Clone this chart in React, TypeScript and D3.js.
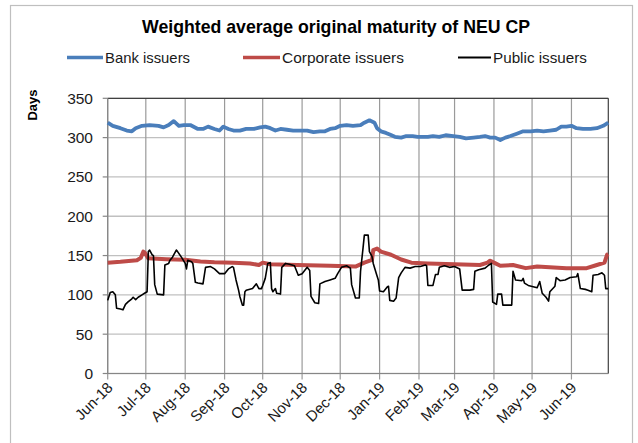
import React from "react";
import * as d3 from "d3";

// DATA
const chartTitle = "Weighted average original maturity of NEU CP";
const yAxisLabel = "Days";
const seriesNames = ["Bank issuers", "Corporate issuers", "Public issuers"];
const yTicks = [0, 50, 100, 150, 200, 250, 300, 350];
const monthTicks = [
  "2018-06-01", "2018-07-01", "2018-08-01", "2018-09-01", "2018-10-01",
  "2018-11-01", "2018-12-01", "2019-01-01", "2019-02-01", "2019-03-01",
  "2019-04-01", "2019-05-01", "2019-06-01",
];

const bankIssuers: [string, number][] = [
  ["2018-06-01", 319], ["2018-06-05", 315], ["2018-06-11", 312], ["2018-06-16", 309],
  ["2018-06-20", 308], ["2018-06-23", 312], ["2018-06-28", 315], ["2018-07-04", 316],
  ["2018-07-11", 315], ["2018-07-15", 313], ["2018-07-19", 316], ["2018-07-23", 321],
  ["2018-07-27", 315], ["2018-07-31", 316], ["2018-08-05", 316], ["2018-08-11", 311],
  ["2018-08-15", 311], ["2018-08-19", 314], ["2018-08-24", 311], ["2018-08-28", 309],
  ["2018-08-31", 314], ["2018-09-04", 311], ["2018-09-08", 309], ["2018-09-13", 309],
  ["2018-09-18", 311], ["2018-09-24", 311], ["2018-09-29", 313], ["2018-10-03", 314],
  ["2018-10-07", 312], ["2018-10-11", 309], ["2018-10-15", 311], ["2018-10-20", 310],
  ["2018-10-25", 309], ["2018-10-30", 309], ["2018-11-05", 309], ["2018-11-10", 307],
  ["2018-11-15", 308], ["2018-11-19", 308], ["2018-11-23", 311], ["2018-11-27", 312],
  ["2018-12-01", 315], ["2018-12-06", 316], ["2018-12-11", 315], ["2018-12-17", 316],
  ["2018-12-20", 319], ["2018-12-24", 322], ["2018-12-28", 319], ["2018-12-30", 312],
  ["2019-01-02", 308], ["2019-01-06", 306], ["2019-01-09", 304], ["2019-01-13", 301],
  ["2019-01-18", 300], ["2019-01-22", 302], ["2019-01-27", 302], ["2019-01-31", 301],
  ["2019-02-04", 301], ["2019-02-08", 301], ["2019-02-12", 302], ["2019-02-17", 301],
  ["2019-02-22", 303], ["2019-02-28", 302], ["2019-03-05", 301], ["2019-03-10", 299],
  ["2019-03-16", 300], ["2019-03-21", 301], ["2019-03-25", 302], ["2019-03-29", 300],
  ["2019-04-02", 300], ["2019-04-06", 297], ["2019-04-10", 300], ["2019-04-14", 302],
  ["2019-04-19", 305], ["2019-04-24", 308], ["2019-04-30", 308], ["2019-05-05", 309],
  ["2019-05-10", 308], ["2019-05-15", 309], ["2019-05-20", 310], ["2019-05-24", 314],
  ["2019-05-28", 314], ["2019-06-01", 315], ["2019-06-05", 312], ["2019-06-10", 311],
  ["2019-06-16", 311], ["2019-06-21", 312], ["2019-06-26", 315], ["2019-06-30", 319],
];

const corporateIssuers: [string, number][] = [
  ["2018-06-01", 141], ["2018-06-11", 142], ["2018-06-24", 144], ["2018-06-27", 147],
  ["2018-06-29", 155], ["2018-06-30", 154], ["2018-07-03", 146.5], ["2018-07-17", 145.4],
  ["2018-08-01", 144.6], ["2018-08-13", 142.5], ["2018-08-24", 141.5], ["2018-09-08", 141],
  ["2018-09-21", 140], ["2018-09-28", 138], ["2018-10-01", 141], ["2018-10-07", 139],
  ["2018-10-28", 138], ["2018-11-23", 137], ["2018-12-13", 136], ["2018-12-20", 141],
  ["2018-12-26", 144.5], ["2018-12-27", 157], ["2018-12-30", 159], ["2019-01-02", 155],
  ["2019-01-10", 151], ["2019-01-18", 145], ["2019-01-26", 141], ["2019-02-08", 140],
  ["2019-03-01", 139], ["2019-03-21", 138], ["2019-03-27", 141], ["2019-03-29", 143.5],
  ["2019-04-01", 141], ["2019-04-06", 137], ["2019-04-16", 138], ["2019-04-26", 134],
  ["2019-05-05", 136], ["2019-05-28", 134], ["2019-06-13", 134], ["2019-06-21", 138],
  ["2019-06-27", 141], ["2019-06-29", 151], ["2019-06-30", 152],
];

const publicIssuers: [string, number][] = [
  ["2018-06-01", 93], ["2018-06-03", 103], ["2018-06-05", 104], ["2018-06-07", 100],
  ["2018-06-08", 83], ["2018-06-11", 82], ["2018-06-13", 81], ["2018-06-15", 88],
  ["2018-06-17", 91], ["2018-06-20", 95], ["2018-06-21", 97], ["2018-06-23", 94],
  ["2018-06-25", 97], ["2018-06-28", 100], ["2018-06-30", 102], ["2018-07-02", 104],
  ["2018-07-03", 155], ["2018-07-04", 157], ["2018-07-06", 151], ["2018-07-07", 150],
  ["2018-07-08", 113], ["2018-07-10", 101], ["2018-07-15", 100], ["2018-07-16", 138],
  ["2018-07-19", 140], ["2018-07-20", 144], ["2018-07-22", 148], ["2018-07-25", 157],
  ["2018-07-26", 155], ["2018-07-29", 148], ["2018-08-01", 140], ["2018-08-02", 133],
  ["2018-08-03", 144], ["2018-08-06", 142], ["2018-08-07", 140], ["2018-08-09", 116],
  ["2018-08-11", 115], ["2018-08-15", 114], ["2018-08-17", 135], ["2018-08-21", 136],
  ["2018-08-24", 133], ["2018-08-28", 127], ["2018-09-01", 127], ["2018-09-04", 133],
  ["2018-09-07", 136], ["2018-09-08", 135], ["2018-09-10", 119], ["2018-09-12", 106],
  ["2018-09-13", 98], ["2018-09-15", 87], ["2018-09-16", 87], ["2018-09-17", 104],
  ["2018-09-18", 106], ["2018-09-23", 108], ["2018-09-26", 114], ["2018-09-28", 108],
  ["2018-09-30", 108], ["2018-10-01", 112], ["2018-10-03", 121], ["2018-10-05", 140],
  ["2018-10-07", 141], ["2018-10-08", 108], ["2018-10-09", 104], ["2018-10-11", 108],
  ["2018-10-12", 102], ["2018-10-15", 101], ["2018-10-16", 135], ["2018-10-19", 140],
  ["2018-10-22", 139], ["2018-10-26", 137], ["2018-10-29", 125], ["2018-11-01", 127],
  ["2018-11-03", 131], ["2018-11-05", 135], ["2018-11-07", 131], ["2018-11-08", 98],
  ["2018-11-11", 90], ["2018-11-14", 89], ["2018-11-15", 114], ["2018-11-19", 117],
  ["2018-11-23", 119], ["2018-11-27", 121], ["2018-11-29", 127], ["2018-12-02", 135],
  ["2018-12-06", 137], ["2018-12-09", 134], ["2018-12-10", 113], ["2018-12-13", 96],
  ["2018-12-16", 96], ["2018-12-17", 130], ["2018-12-19", 160], ["2018-12-20", 176],
  ["2018-12-23", 176], ["2018-12-24", 155], ["2018-12-26", 149], ["2018-12-27", 140],
  ["2018-12-30", 124], ["2018-12-31", 119], ["2019-01-01", 105], ["2019-01-04", 104],
  ["2019-01-07", 110], ["2019-01-08", 111], ["2019-01-09", 93], ["2019-01-12", 92],
  ["2019-01-14", 96], ["2019-01-16", 122], ["2019-01-18", 128], ["2019-01-21", 135],
  ["2019-01-25", 134], ["2019-01-29", 136], ["2019-02-02", 136], ["2019-02-06", 138],
  ["2019-02-07", 137], ["2019-02-08", 112], ["2019-02-12", 112], ["2019-02-14", 126],
  ["2019-02-16", 126], ["2019-02-17", 135], ["2019-02-21", 137], ["2019-02-25", 135],
  ["2019-03-01", 136], ["2019-03-05", 133], ["2019-03-07", 106], ["2019-03-13", 106],
  ["2019-03-16", 107], ["2019-03-17", 130], ["2019-03-20", 132], ["2019-03-25", 134],
  ["2019-03-28", 138], ["2019-03-30", 140], ["2019-03-31", 91], ["2019-04-03", 88],
  ["2019-04-04", 101], ["2019-04-07", 101], ["2019-04-08", 87], ["2019-04-15", 87],
  ["2019-04-16", 130], ["2019-04-18", 119], ["2019-04-23", 118], ["2019-04-24", 121],
  ["2019-04-25", 115], ["2019-04-28", 112], ["2019-05-05", 109], ["2019-05-07", 117],
  ["2019-05-09", 102], ["2019-05-12", 97], ["2019-05-14", 92], ["2019-05-15", 104],
  ["2019-05-19", 111], ["2019-05-20", 122], ["2019-05-23", 118], ["2019-05-27", 119],
  ["2019-05-31", 122], ["2019-06-05", 123], ["2019-06-06", 127], ["2019-06-08", 108],
  ["2019-06-12", 107], ["2019-06-14", 106], ["2019-06-17", 104], ["2019-06-18", 125],
  ["2019-06-22", 126], ["2019-06-25", 128], ["2019-06-27", 125], ["2019-06-28", 108],
  ["2019-06-30", 108],
];

const parseDate = d3.timeParse("%Y-%m-%d");
const formatMonth = d3.timeFormat("%b-%y");

export default function App() {
  // WIDTH, HEIGHT & PLOT BOX
  const width = 638;
  const height = 443;
  const plot = { left: 107.7, right: 608.3, top: 98.3, bottom: 373.5 };
  const font = "'Liberation Sans', Arial, sans-serif";

  // SCALES
  const xScale = d3
    .scaleTime()
    .domain([parseDate("2018-06-01")!, parseDate("2019-06-30")!])
    .range([plot.left, plot.right]);
  const yScale = d3.scaleLinear().domain([0, 350]).range([plot.bottom, plot.top]);

  const line = d3
    .line<[string, number]>()
    .x((d) => xScale(parseDate(d[0])!))
    .y((d) => yScale(d[1]));

  const series = [
    { name: seriesNames[0], data: bankIssuers, color: "#4a7ebb", width: 3.8 },
    { name: seriesNames[1], data: corporateIssuers, color: "#be4b48", width: 4 },
    { name: seriesNames[2], data: publicIssuers, color: "#000000", width: 1.6 },
  ];

  const legend = [
    { x1: 67, x2: 103, tx: 105, tl: 85 },
    { x1: 243, x2: 280, tx: 282, tl: 122 },
    { x1: 458, x2: 491, tx: 493, tl: 94 },
  ];

  const months = monthTicks.map((m) => parseDate(m)!);

  return (
    <svg
      width={width}
      height={height}
      style={{ position: "absolute", left: 0, top: 0, background: "#fff" }}
      fontFamily={font}
    >
      {/* CHART BORDER */}
      <rect x={10.5} y={5.5} width={622} height={450} fill="#fff" stroke="#bfbfbf" strokeWidth={1.2} />

      {/* TITLE */}
      <text
        x={336}
        y={33}
        textAnchor="middle"
        fontSize={19}
        fontWeight="bold"
        fill="#000"
        textLength={388}
        lengthAdjust="spacingAndGlyphs"
      >
        {chartTitle}
      </text>

      {/* LEGEND */}
      {series.map((s, i) => (
        <g key={s.name}>
          <line
            x1={legend[i].x1}
            x2={legend[i].x2}
            y1={57.5}
            y2={57.5}
            stroke={s.color}
            strokeWidth={i === 2 ? 1.8 : 3.6}
          />
          <text
            x={legend[i].tx}
            y={63}
            fontSize={15}
            fill="#1a1a1a"
            textLength={legend[i].tl}
            lengthAdjust="spacingAndGlyphs"
          >
            {s.name}
          </text>
        </g>
      ))}

      {/* HORIZONTAL GRID */}
      {yTicks.map((t) => (
        <line
          key={"h" + t}
          x1={plot.left}
          x2={plot.right}
          y1={yScale(t)}
          y2={yScale(t)}
          stroke="#c0c0c0"
          strokeWidth={1.3}
        />
      ))}

      {/* VERTICAL GRID */}
      {months.map((m) => (
        <line
          key={"v" + m.getTime()}
          x1={xScale(m)}
          x2={xScale(m)}
          y1={plot.top}
          y2={plot.bottom + 6}
          stroke="#9a9a9a"
          strokeWidth={1.2}
        />
      ))}

      {/* PLOT BORDER (TOP/RIGHT) */}
      <line x1={plot.left} x2={plot.right} y1={plot.top} y2={plot.top} stroke="#404040" strokeWidth={1.2} />
      <line x1={plot.right} x2={plot.right} y1={plot.top} y2={plot.bottom} stroke="#404040" strokeWidth={1.2} />

      {/* AXES */}
      <line x1={plot.left} x2={plot.left} y1={plot.top} y2={plot.bottom} stroke="#868686" strokeWidth={1.2} />
      <line x1={plot.left} x2={plot.right} y1={plot.bottom} y2={plot.bottom} stroke="#868686" strokeWidth={1.2} />
      {yTicks.map((t) => (
        <g key={"yt" + t}>
          <line x1={plot.left - 5} x2={plot.left} y1={yScale(t)} y2={yScale(t)} stroke="#868686" strokeWidth={1.2} />
          <text x={93} y={yScale(t) + 5.5} textAnchor="end" fontSize={15.5} fill="#1a1a1a">
            {t}
          </text>
        </g>
      ))}
      {months.map((m) => (
        <text
          key={"xt" + m.getTime()}
          transform={`translate(${xScale(m) + 6},${plot.bottom + 15}) rotate(-45)`}
          textAnchor="end"
          fontSize={15}
          fill="#1a1a1a"
        >
          {formatMonth(m)}
        </text>
      ))}

      {/* Y AXIS TITLE */}
      <text
        transform="translate(37,105) rotate(-90)"
        textAnchor="middle"
        fontSize={13}
        fontWeight="bold"
        fill="#000"
      >
        {yAxisLabel}
      </text>

      {/* SERIES */}
      {series.map((s) => (
        <path
          key={s.name}
          d={line(s.data) ?? ""}
          fill="none"
          stroke={s.color}
          strokeWidth={s.width}
          strokeLinejoin="round"
        />
      ))}
    </svg>
  );
}
